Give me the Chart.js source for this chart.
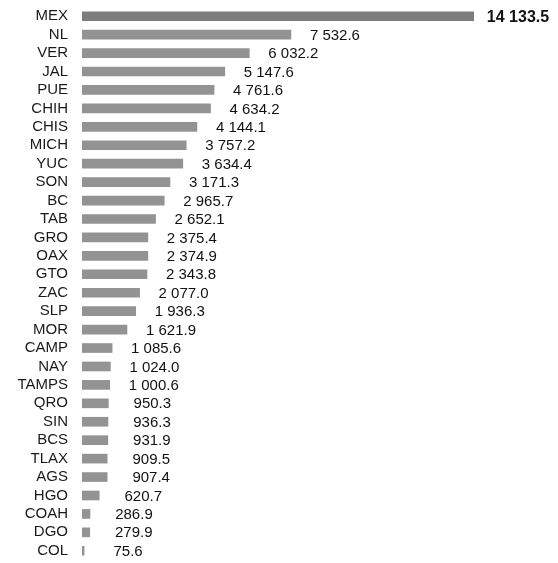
<!DOCTYPE html>
<html>
<head>
<meta charset="utf-8">
<script src="https://cdn.jsdelivr.net/npm/chart.js@4"></script>
<style>
  html, body { margin: 0; padding: 0; background: #fff; overflow: hidden; }
  #wrap { width: 558px; height: 563px; }
</style>
</head>
<body>
<div id="wrap"><canvas id="estadosChart"></canvas></div>
<script>
const estados = ['MEX', 'NL', 'VER', 'JAL', 'PUE', 'CHIH', 'CHIS', 'MICH', 'YUC', 'SON',
  'BC', 'TAB', 'GRO', 'OAX', 'GTO', 'ZAC', 'SLP', 'MOR', 'CAMP', 'NAY',
  'TAMPS', 'QRO', 'SIN', 'BCS', 'TLAX', 'AGS', 'HGO', 'COAH', 'DGO', 'COL'];
const valores = [14133.5, 7532.6, 6032.2, 5147.6, 4761.6, 4634.2, 4144.1, 3757.2, 3634.4, 3171.3,
  2965.7, 2652.1, 2375.4, 2374.9, 2343.8, 2077.0, 1936.3, 1621.9, 1085.6, 1024.0,
  1000.6, 950.3, 936.3, 931.9, 909.5, 907.4, 620.7, 286.9, 279.9, 75.6];

// number format with a space as thousands separator
function fmt(v) {
    const parts = v.toFixed(1).split('.');
    return parts[0].replace(/\B(?=(\d{3})+(?!\d))/g, ' ') + '.' + parts[1];
}

// value labels at the end of every bar
const valueLabels = {
    id: 'valueLabels',
    afterDatasetsDraw(chart) {
        const ctx = chart.ctx;
        const meta = chart.getDatasetMeta(0);
        ctx.save();
        ctx.textAlign = 'center';
        ctx.textBaseline = 'middle';
        ctx.fillStyle = '#111';
        meta.data.forEach((bar, i) => {
            ctx.font = i === 0 ? 'bold 16px Arial, "Liberation Sans", sans-serif' : '15px Arial, "Liberation Sans", sans-serif';
            ctx.fillText(fmt(valores[i]), bar.x + 44, bar.y + 1);
        });
        ctx.restore();
    }
};

document.addEventListener('DOMContentLoaded', function() {
    const ctx = document.getElementById('estadosChart').getContext('2d');
    new Chart(ctx, {
        type: 'bar',
        data: {
            labels: estados,
            datasets: [{
                data: valores,
                backgroundColor: valores.map((v, i) => i === 0 ? '#7c7c7c' : '#939393'),
                barThickness: 9,
                borderSkipped: false
            }]
        },
        options: {
            indexAxis: 'y',
            responsive: true,
            maintainAspectRatio: false,
            animation: false,
            layout: {
                padding: { top: 7, bottom: 3, left: 0, right: 84 }
            },
            scales: {
                x: {
                    display: false,
                    min: 0,
                    max: 14133.5
                },
                y: {
                    afterFit(scale) {
                        scale.width = 82;
                        scale.paddingTop = 0;
                        scale.paddingBottom = 0;
                    },
                    grid: { display: false, drawTicks: false },
                    border: { display: false },
                    ticks: {
                        padding: 14,
                        color: '#1a1a1a',
                        autoSkip: false,
                        font: { family: 'Arial, "Liberation Sans", sans-serif', size: 15 }
                    }
                }
            },
            plugins: {
                legend: { display: false },
                tooltip: { enabled: false }
            }
        },
        plugins: [valueLabels]
    });
});
</script>
</body>
</html>
